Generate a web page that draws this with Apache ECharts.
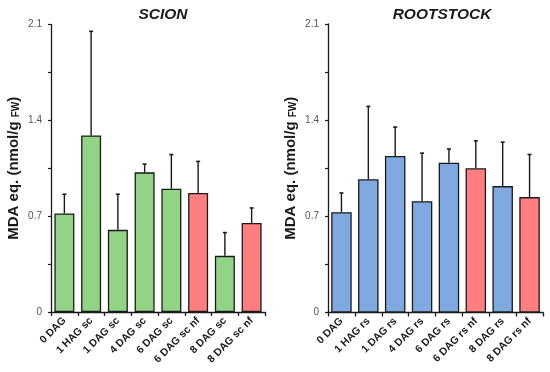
<!DOCTYPE html>
<html>
<head>
<meta charset="utf-8">
<script src="https://cdn.jsdelivr.net/npm/echarts@6/dist/echarts.min.js"></script>
<style>html,body{margin:0;padding:0;background:#fff}#c{width:550px;height:372px}</style>
</head>
<body>
<div id="c"></div>
<script>
const scionCategories = ['0 DAG','1 HAG sc','1 DAG sc','4 DAG sc','6 DAG sc','6 DAG sc nf','8 DAG sc','8 DAG sc nf'];
const scionMeans = [0.72, 1.29, 0.60, 1.02, 0.90, 0.87, 0.41, 0.65];
const scionErrors = [0.14, 0.76, 0.26, 0.06, 0.25, 0.23, 0.17, 0.11];
const rootCategories = ['0 DAG','1 HAG rs','1 DAG rs','4 DAG rs','6 DAG rs','6 DAG rs nf','8 DAG rs','8 DAG rs nf'];
const rootMeans = [0.73, 0.97, 1.14, 0.81, 1.09, 1.05, 0.92, 0.84];
const rootErrors = [0.14, 0.53, 0.21, 0.35, 0.10, 0.20, 0.32, 0.31];
const yTickLabels = ['0', '0.7', '1.4', '2.1'];
const panelTitles = ['SCION', 'ROOTSTOCK'];

const GREEN = '#93D385', BLUE = '#7FA9E0', RED = '#FF7F80';
const FONT = 'Arial, "Liberation Sans", sans-serif';

function barData(cats, means, base) {
  return means.map((v, i) => ({
    value: v,
    itemStyle: { color: /nf$/.test(cats[i]) ? RED : base }
  }));
}
function errData(means, errs) {
  return means.map((v, i) => [i, v, v + errs[i]]);
}
function errRender(params, api) {
  const x = api.value(0);
  const lo = api.coord([x, api.value(1)]);
  const hi = api.coord([x, api.value(2)]);
  const cap = 2;
  return {
    type: 'group',
    children: [
      { type: 'line', shape: { x1: lo[0], y1: lo[1], x2: hi[0], y2: hi[1] }, style: { stroke: '#1a1a1a', lineWidth: 1.4 } },
      { type: 'line', shape: { x1: hi[0] - cap, y1: hi[1], x2: hi[0] + cap, y2: hi[1] }, style: { stroke: '#1a1a1a', lineWidth: 1.6 } }
    ]
  };
}
function xAxis(idx, cats) {
  return {
    type: 'category', gridIndex: idx, data: cats,
    axisLine: { lineStyle: { color: '#1a1a1a', width: 1.3 } },
    axisTick: { show: true, length: 4, inside: false, lineStyle: { color: '#1a1a1a', width: 1.3 } },
    axisLabel: { rotate: 45, interval: 0, margin: 7, fontSize: 10.5, fontWeight: 'bold', color: '#1a1a1a', fontFamily: FONT }
  };
}
function yAxis(idx) {
  return {
    type: 'value', gridIndex: idx, min: 0, max: 2.1, interval: 0.35,
    axisLine: { show: true, lineStyle: { color: '#1a1a1a', width: 1.3 } },
    axisTick: { show: true, length: 3, lineStyle: { color: '#1a1a1a', width: 1.2 } },
    splitLine: { show: false },
    axisLabel: {
      margin: 9, fontSize: 10, color: '#555', fontFamily: FONT,
      formatter: v => {
        const s = (Math.round(v * 100) / 100).toString();
        return yTickLabels.indexOf(s) >= 0 ? s : '';
      }
    },
    name: 'MDA eq. (nmol/g {s|FW})',
    nameLocation: 'middle', nameRotate: 90, nameGap: 30,
    nameTextStyle: {
      fontSize: 15, fontWeight: 'bold', color: '#1a1a1a', fontFamily: FONT, padding: [0, 0, 0, 0],
      rich: { s: { fontSize: 10, fontWeight: 'bold', color: '#1a1a1a', fontFamily: FONT, verticalAlign: 'bottom' } }
    }
  };
}

const chart = echarts.init(document.getElementById('c'), null, { renderer: 'canvas' });
chart.setOption({
  animation: false,
  backgroundColor: '#fff',
  title: [
    { text: panelTitles[0], left: 158, top: 2, textAlign: 'center', textStyle: { fontSize: 15.5, fontStyle: 'italic', fontWeight: 'bold', color: '#1a1a1a', fontFamily: FONT } },
    { text: panelTitles[1], left: 437, top: 2, textAlign: 'center', textStyle: { fontSize: 15.5, fontStyle: 'italic', fontWeight: 'bold', color: '#1a1a1a', fontFamily: FONT } }
  ],
  grid: [
    { left: 51, right: 285, top: 24.5, bottom: 60 },
    { left: 328, right: 7, top: 24, bottom: 59.5 }
  ],
  xAxis: [xAxis(0, scionCategories), xAxis(1, rootCategories)],
  yAxis: [yAxis(0), yAxis(1)],
  series: [
    { type: 'bar', xAxisIndex: 0, yAxisIndex: 0, data: barData(scionCategories, scionMeans, GREEN), barWidth: 20,
      itemStyle: { borderColor: '#1a1a1a', borderWidth: 1.3 } },
    { type: 'custom', xAxisIndex: 0, yAxisIndex: 0, data: errData(scionMeans, scionErrors), renderItem: errRender, z: 5 },
    { type: 'bar', xAxisIndex: 1, yAxisIndex: 1, data: barData(rootCategories, rootMeans, BLUE), barWidth: 20.5,
      itemStyle: { borderColor: '#1a1a1a', borderWidth: 1.3 } },
    { type: 'custom', xAxisIndex: 1, yAxisIndex: 1, data: errData(rootMeans, rootErrors), renderItem: errRender, z: 5 }
  ]
});
</script>
</body>
</html>
